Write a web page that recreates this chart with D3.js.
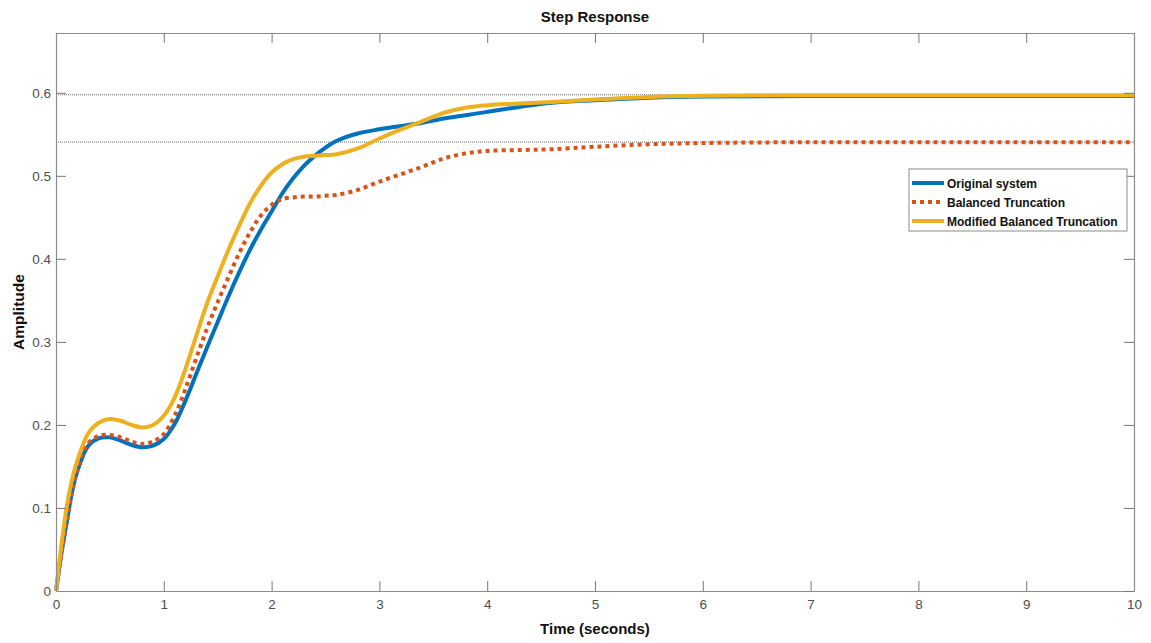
<!DOCTYPE html>
<html>
<head>
<meta charset="utf-8">
<script src="https://cdn.jsdelivr.net/npm/d3@7"></script>
<style>
  body { margin: 0; background: #fff; }
  text { font-family: "Liberation Sans", Arial, sans-serif; }
</style>
</head>
<body>
<div id="chart"></div>
<script>
var margin = { top: 33, right: 17, bottom: 52, left: 56 },
    width = 1151,
    height = 643,
    colors = ["#0072BD", "#D95319", "#EDB120"];

// time samples (seconds)
var time = [0, 0.05, 0.1, 0.15, 0.2, 0.3, 0.4, 0.5, 0.6, 0.7, 0.8, 0.9, 1.0, 1.1, 1.2, 1.3, 1.4, 1.5, 1.6, 1.7, 1.8, 1.9,
            2.0, 2.1, 2.2, 2.3, 2.4, 2.5, 2.6, 2.8, 3.0, 3.2, 3.4, 3.6, 3.8, 4.0, 4.3, 4.6, 5.0, 5.5, 6.0, 7.0, 8.0, 9.0, 10.0];

var originalSystem = [0, 0.045, 0.083, 0.12, 0.145, 0.175, 0.184, 0.185, 0.181, 0.176, 0.173, 0.175, 0.183, 0.201, 0.229, 0.261, 0.293, 0.324, 0.355, 0.384, 0.411, 0.435,
            0.457, 0.479, 0.497, 0.512, 0.524, 0.534, 0.542, 0.551, 0.556, 0.560, 0.564, 0.569, 0.573, 0.577, 0.583, 0.588, 0.591, 0.594, 0.5955, 0.596, 0.596, 0.596, 0.596];

var balancedTrunc = [0, 0.045, 0.083, 0.12, 0.148, 0.178, 0.187, 0.188, 0.185, 0.180, 0.177, 0.180, 0.189, 0.211, 0.243, 0.280, 0.316, 0.348, 0.378, 0.407, 0.432, 0.452,
            0.465, 0.472, 0.474, 0.475, 0.475, 0.476, 0.477, 0.483, 0.493, 0.502, 0.511, 0.521, 0.527, 0.530, 0.531, 0.532, 0.535, 0.538, 0.5395, 0.5405, 0.5405, 0.5405, 0.5405];

var modifiedTrunc = [0, 0.055, 0.102, 0.135, 0.158, 0.19, 0.203, 0.207, 0.205, 0.200, 0.197, 0.200, 0.211, 0.233, 0.267, 0.307, 0.346, 0.379, 0.411, 0.440, 0.467, 0.488,
            0.504, 0.514, 0.520, 0.523, 0.524, 0.525, 0.526, 0.533, 0.545, 0.556, 0.566, 0.576, 0.582, 0.585, 0.587, 0.589, 0.592, 0.595, 0.5965, 0.597, 0.597, 0.597, 0.597];

var seriesNames = ["Original system", "Balanced Truncation", "Modified Balanced Truncation"];
var steadyStates = [0.5976, 0.5406];
var xTicks = d3.range(0, 11, 1);
var yTicks = [0, 0.1, 0.2, 0.3, 0.4, 0.5, 0.6];

var svg = d3.select("#chart").append("svg")
    .attr("width", width)
    .attr("height", height);

var x = d3.scaleLinear().domain([0, 10]).range([margin.left, width - margin.right]);
var y = d3.scaleLinear().domain([0, 0.672]).range([height - margin.bottom, margin.top]);

var x0 = x.range()[0], x1 = x.range()[1], y0 = y.range()[0], y1 = y.range()[1];

// steady state dotted lines
svg.selectAll(".ss").data(steadyStates).enter().append("line")
    .attr("x1", x0).attr("x2", x1)
    .attr("y1", function(d) { return y(d); }).attr("y2", function(d) { return y(d); })
    .attr("stroke", "#444").attr("stroke-width", 0.8).attr("stroke-dasharray", "1,1");

// curves
var series = [originalSystem, balancedTrunc, modifiedTrunc];
var line = d3.line()
    .x(function(d, i) { return x(time[i]); })
    .y(function(d) { return y(d); })
    .curve(d3.curveCatmullRom.alpha(0.5));

svg.selectAll(".curve").data(series).enter().append("path")
    .attr("class", "curve")
    .attr("d", line)
    .attr("fill", "none")
    .attr("stroke", function(d, i) { return colors[i]; })
    .attr("stroke-width", 4)
    .attr("stroke-dasharray", function(d, i) { return i == 1 ? "4,4" : null; });

// axes (matlab style: ticks inside, box on)
var axisColor = "#8c8c8c";
var gBottom = svg.append("g").attr("transform", "translate(0," + y0 + ")")
    .call(d3.axisBottom(x).tickValues(xTicks).tickSizeInner(-10).tickSizeOuter(0).tickPadding(8).tickFormat(d3.format("d")));
var gTop = svg.append("g").attr("transform", "translate(0," + y1 + ")")
    .call(d3.axisTop(x).tickValues(xTicks).tickSizeInner(-10).tickSizeOuter(0).tickFormat(""));
var gLeft = svg.append("g").attr("transform", "translate(" + x0 + ",0)")
    .call(d3.axisLeft(y).tickValues(yTicks).tickSizeInner(-10).tickSizeOuter(0).tickPadding(5).tickFormat(function(d) { return d == 0 ? "0" : d3.format(".1f")(d); }));
var gRight = svg.append("g").attr("transform", "translate(" + x1 + ",0)")
    .call(d3.axisRight(y).tickValues(yTicks).tickSizeInner(-10).tickSizeOuter(0).tickFormat(""));

[gBottom, gTop, gLeft, gRight].forEach(function(g) {
  g.selectAll("path").attr("stroke", axisColor).attr("stroke-width", 1.2);
  g.selectAll("line").attr("stroke", "#777").attr("stroke-width", 1);
  g.selectAll("text").attr("fill", "#4d4d4d").style("font-size", "13.5px")
    .style("font-family", "'Liberation Sans', Arial, sans-serif");
});
gBottom.select(".tick line").remove();
gLeft.select(".tick line").remove();

// titles
svg.append("text").attr("x", 595).attr("y", 22).attr("text-anchor", "middle")
    .style("font-size", "15px").style("font-weight", "bold").attr("fill", "#111").text("Step Response");
svg.append("text").attr("x", 595).attr("y", 634).attr("text-anchor", "middle")
    .style("font-size", "15px").style("font-weight", "bold").attr("fill", "#111").text("Time (seconds)");
svg.append("text").attr("transform", "translate(24,312) rotate(-90)").attr("text-anchor", "middle")
    .style("font-size", "15.5px").style("font-weight", "bold").attr("fill", "#111").text("Amplitude");

// legend
var legend = svg.append("g").attr("transform", "translate(909,169)");
legend.append("rect").attr("width", 218).attr("height", 62)
    .attr("fill", "#fff").attr("stroke", "#8c8c8c").attr("stroke-width", 1);
var items = legend.selectAll(".item").data(seriesNames).enter().append("g")
    .attr("transform", function(d, i) { return "translate(0," + (14 + i * 19) + ")"; });
items.append("line").attr("x1", 3).attr("x2", 35).attr("y1", 0).attr("y2", 0)
    .attr("stroke", function(d, i) { return colors[i]; })
    .attr("stroke-width", 4)
    .attr("stroke-dasharray", function(d, i) { return i == 1 ? "4,4" : null; });
items.append("text").attr("x", 38).attr("y", 4.5)
    .style("font-size", "12px").style("font-weight", "bold").attr("fill", "#111")
    .text(function(d) { return d; });
</script>
</body>
</html>
